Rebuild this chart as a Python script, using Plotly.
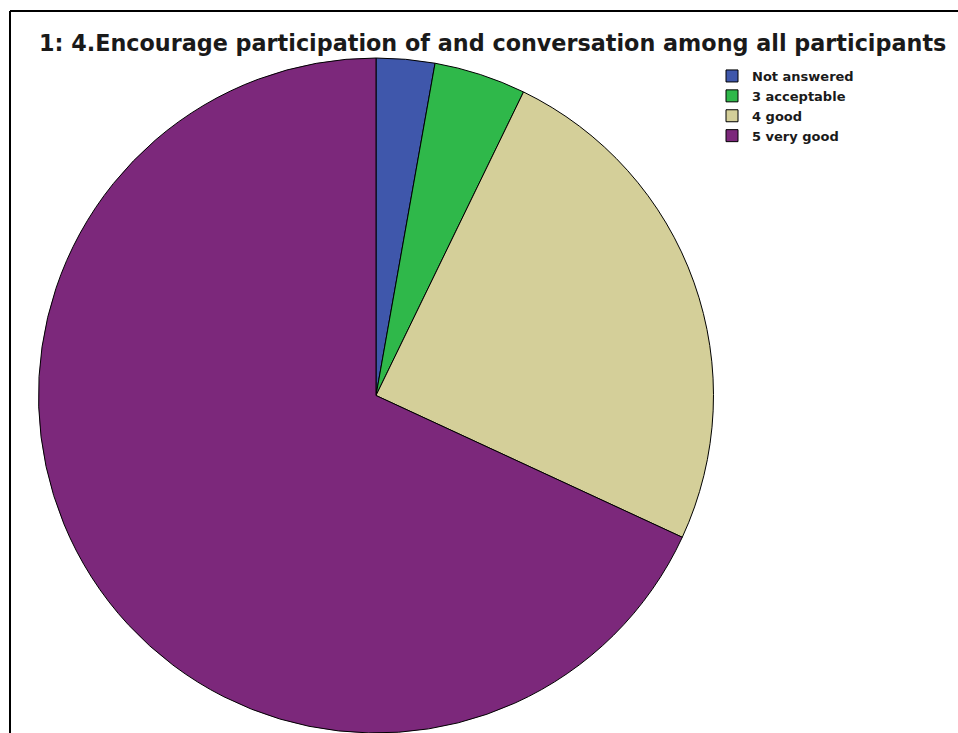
import plotly.graph_objects as go

categories = ["Not answered", "3 acceptable", "4 good", "5 very good"]
percent = [2.8, 4.4, 24.7, 68.1]
colors = ["#3F57AB", "#2FB84A", "#D4CF99", "#7C287B"]
title_text = "1: 4.Encourage participation of and conversation among all participants"

W, H = 958, 733
fig = go.Figure(go.Pie(
    labels=categories,
    values=percent,
    sort=False,
    direction="clockwise",
    rotation=0,
    textinfo="none",
    hoverinfo="label+percent",
    marker=dict(colors=colors, line=dict(color="#000000", width=1)),
    domain=dict(x=[37 / W, 715 / W], y=[0, 1 - 58 / H]),
))

fig.update_layout(
    width=W, height=H,
    margin=dict(l=0, r=0, t=0, b=0),
    paper_bgcolor="white",
    plot_bgcolor="white",
    title=dict(text="<b>" + title_text + "</b>", x=39 / W, xanchor="left",
               y=1 - 43 / H, yanchor="middle",
               font=dict(family="DejaVu Sans", size=22.3, color="#1a1a1a")),
    showlegend=True,
    legend=dict(x=712 / W, y=1 - 61 / H, xanchor="left", yanchor="top",
                font=dict(family="DejaVu Sans", size=13, color="#1a1a1a",
                          weight="bold"),
                bgcolor="rgba(0,0,0,0)", tracegroupgap=0),
    shapes=[
        dict(type="line", xref="paper", yref="paper", x0=10 / W, x1=1.0,
             y0=1 - 11 / H, y1=1 - 11 / H, line=dict(color="black", width=2)),
        dict(type="line", xref="paper", yref="paper", x0=10 / W, x1=10 / W,
             y0=1 - 11 / H, y1=0, line=dict(color="black", width=2)),
    ],
)

fig.write_html("out.html", config={"displayModeBar": False},
               post_script="document.body.style.margin='0';document.body.style.padding='0';")
